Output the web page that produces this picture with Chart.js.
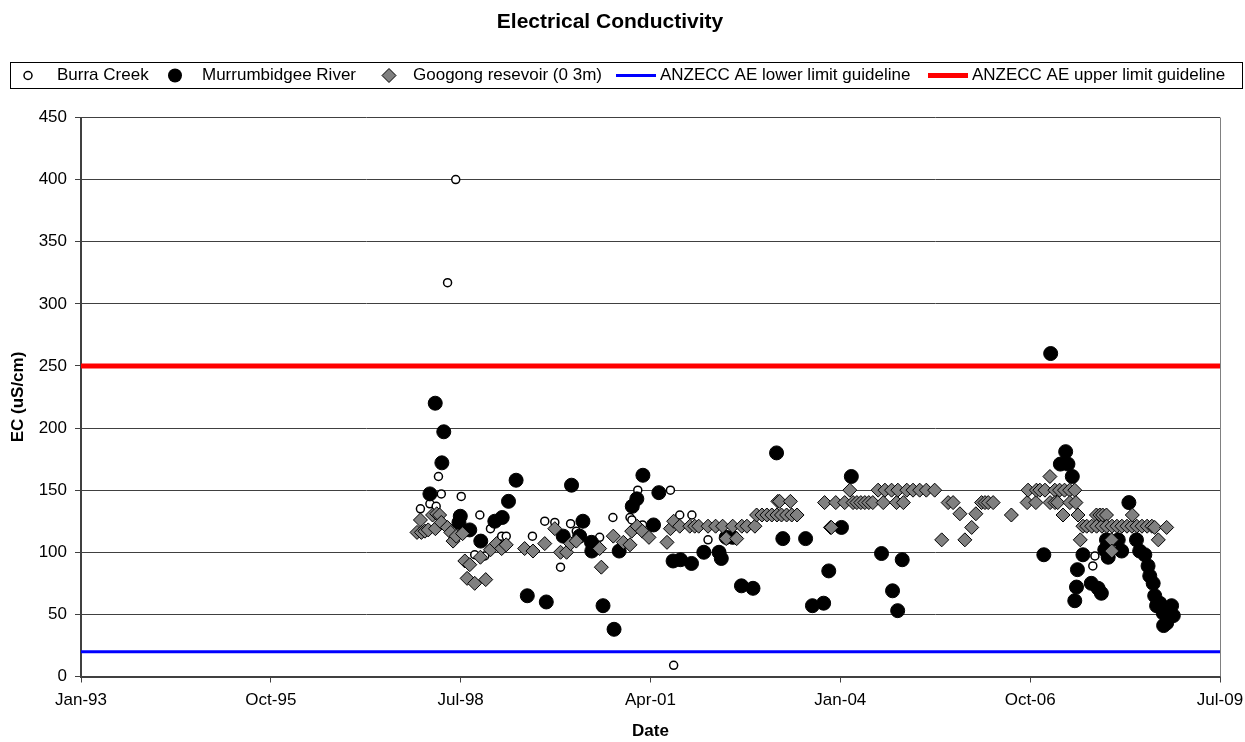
<!DOCTYPE html>
<html>
<head>
<meta charset="utf-8">
<script src="https://cdn.jsdelivr.net/npm/chart.js@4.4.0/dist/chart.umd.min.js"></script>
<style>
html,body{margin:0;padding:0;background:#fff;}
#wrap{width:1245px;height:742px;position:relative;}
</style>
</head>
<body>
<div id="wrap"><canvas id="c" width="1245" height="742"></canvas></div>
<script>
// ---------- DATA ----------
const chartTitle = 'Electrical Conductivity';
const xAxisTitle = 'Date';
const yAxisTitle = 'EC (uS/cm)';
const seriesNames = ['Burra Creek', 'Murrumbidgee River', 'Googong resevoir (0 3m)',
  'ANZECC AE lower limit guideline', 'ANZECC AE upper limit guideline'];

const axisStartDate = '1993-01-31';   // Jan-93
const axisEndDate = '2009-07-06';     // Jul-09
const xTickStepDays = 1000;
const yMin = 0, yMax = 450, yStep = 50;

const burraDates = ['1997-12-24','1998-02-12','1998-03-17','1998-03-29','1998-04-13','1998-05-16','1998-06-28','1998-07-27',
  '1998-10-06','1998-11-02','1998-11-28','1998-12-28','1999-02-25','1999-03-21','1999-08-06','1999-10-10','1999-12-02',
  '2000-01-01','2000-02-23','2000-03-24','2000-07-25','2000-10-03','2001-01-01','2001-01-11','2001-02-11','2001-03-08',
  '2001-08-02','2001-08-19','2001-09-20','2001-11-23','2002-02-16','2007-09-05','2007-09-16'];
const burraEC = [135,139,137,161,147,317,400,145,
  98,130,97,119,113,113,113,125,124,
  88,123,117,112,128,128,126,150,122,
  150,9,130,130,110,89,97];

const murrDates = ['1998-02-12','1998-03-12','1998-04-16','1998-04-26','1998-07-15','1998-07-22','1998-09-10','1998-11-07',
  '1999-01-20','1999-02-28','1999-04-02','1999-05-12','1999-07-10','1999-10-18','2000-01-15','2000-02-28','2000-04-11',
  '2000-04-28','2000-06-12','2000-06-14','2000-08-12','2000-10-09','2000-11-05','2001-01-13','2001-02-06','2001-03-10',
  '2001-05-05','2001-06-02','2001-08-16','2001-09-24','2001-11-21','2002-01-25','2002-04-15','2002-04-27','2002-05-23',
  '2002-06-26','2002-08-11','2002-10-11','2003-02-12','2003-03-17','2003-07-15','2003-08-20','2003-10-18','2003-11-14',
  '2004-01-20','2004-03-12','2004-08-18','2004-10-15','2004-11-11','2004-12-05','2006-12-21','2007-01-26','2007-03-18',
  '2007-04-15','2007-04-27','2007-05-20','2007-06-02','2007-06-11','2007-06-16','2007-07-15','2007-08-28','2007-10-03',
  '2007-10-20','2007-11-07','2007-11-16','2007-11-25','2008-01-17','2008-02-04','2008-03-13','2008-04-22','2008-05-09',
  '2008-06-05','2008-06-22','2008-07-01','2008-07-19','2008-07-27','2008-08-06','2008-08-23','2008-09-10','2008-09-12',
  '2008-09-28','2008-10-24','2008-11-02'];
const murrEC = [147,220,172,197,124,129,118,109,
  125,128,141,158,65,60,113,154,113,
  125,108,101,57,38,101,137,143,162,
  122,148,93,94,91,100,100,95,112,
  112,73,71,180,111,111,57,59,85,
  120,161,99,69,53,94,98,260,171,
  181,171,161,61,72,86,98,75,71,
  67,102,110,96,110,101,140,110,101,
  98,89,81,75,65,57,59,51,41,
  43,57,49];

const googDates = ['1997-12-06','1997-12-24','1997-12-29','1998-01-17','1998-02-03','1998-02-26','1998-03-13','1998-03-20',
  '1998-04-04','1998-04-13','1998-05-15','1998-06-02','1998-06-14','1998-07-01','1998-08-03','1998-08-15','1998-08-27',
  '1998-09-10','1998-10-06','1998-11-05','1998-12-03','1998-12-28','1999-01-29','1999-02-25','1999-03-21','1999-06-26',
  '1999-08-09','1999-10-10','1999-12-02','2000-01-01','2000-02-02','2000-02-23','2000-03-24','2000-07-25','2000-08-03',
  '2000-10-05','2000-11-27','2001-01-01','2001-01-10','2001-02-08','2001-03-07','2001-04-11','2001-07-15','2001-08-02',
  '2001-08-19','2001-09-20','2001-11-12','2001-12-08','2001-12-29','2002-02-16','2002-03-28','2002-05-04','2002-05-23',
  '2002-06-26','2002-07-17','2002-08-13','2002-09-09','2002-10-21','2002-10-30','2002-11-27','2002-12-23','2003-01-18',
  '2003-02-14','2003-02-19','2003-02-28','2003-03-10','2003-04-06','2003-04-26','2003-05-03','2003-05-31','2003-10-23',
  '2003-11-23','2003-11-28','2003-12-21','2004-02-06','2004-03-04','2004-03-21','2004-04-10','2004-05-01','2004-05-22',
  '2004-06-12','2004-07-03','2004-07-31','2004-08-27','2004-09-05','2004-10-10','2004-11-05','2004-11-12','2004-12-11',
  '2004-12-29','2005-01-31','2005-03-07','2005-04-11','2005-05-25','2005-07-01','2005-08-04','2005-08-30','2005-10-05',
  '2005-10-31','2005-12-06','2005-12-28','2006-01-27','2006-02-14','2006-03-03','2006-03-29','2006-07-03','2006-09-24',
  '2006-09-29','2006-11-09','2006-11-12','2006-11-30','2006-12-27','2007-01-22','2007-01-23','2007-02-17','2007-02-18',
  '2007-03-04','2007-03-14','2007-04-01','2007-04-09','2007-05-06','2007-05-07','2007-06-02','2007-06-08','2007-06-19',
  '2007-07-01','2007-07-15','2007-08-04','2007-08-30','2007-09-24','2007-09-25','2007-10-12','2007-10-23','2007-10-27',
  '2007-11-16','2007-11-17','2007-12-13','2007-12-14','2007-12-15','2008-01-10','2008-02-05','2008-03-03','2008-03-29',
  '2008-03-31','2008-04-24','2008-05-21','2008-06-17','2008-07-12','2008-07-27','2008-08-15','2008-09-28'];
const googEC = [116,126,116,117,118,130,119,131,
  130,124,120,116,109,113,115,93,79,
  90,75,96,78,102,107,103,106,103,
  101,107,119,100,100,107,109,103,88,
  113,108,106,117,121,117,112,108,119,
  125,121,121,121,121,121,121,121,111,
  121,111,121,121,121,130,130,130,130,
  130,141,141,130,130,141,130,130,140,
  120,120,140,140,150,140,140,140,140,
  140,140,150,140,150,150,140,150,140,
  150,150,150,150,150,110,140,140,131,
  110,120,131,140,140,140,140,130,140,
  150,140,150,150,150,161,140,150,140,
  140,150,130,150,150,140,150,140,130,
  110,121,121,121,130,121,130,121,130,
  130,121,110,101,121,121,121,121,121,
  130,121,121,121,121,120,110,120];

const lowerGuideline = 20;
const upperGuideline = 250;

// ---------- helpers ----------
const DAY_MS = 86400000;
const EXCEL_EPOCH = Date.UTC(1899, 11, 30);
const MONTHS = ['Jan','Feb','Mar','Apr','May','Jun','Jul','Aug','Sep','Oct','Nov','Dec'];
function toSerial(s){ const p = s.split('-').map(Number); return (Date.UTC(p[0], p[1]-1, p[2]) - EXCEL_EPOCH) / DAY_MS; }
function serialLabel(v){ const d = new Date(EXCEL_EPOCH + v*DAY_MS); return MONTHS[d.getUTCMonth()] + '-' + String(d.getUTCFullYear()).slice(2); }
function pts(dates, vals){ return dates.map((d,i)=>({x: toSerial(d), y: vals[i]})); }

const xMin = toSerial(axisStartDate), xMax = toSerial(axisEndDate);

Chart.defaults.font.family = "'Liberation Sans', Arial, sans-serif";
Chart.defaults.font.size = 17;
Chart.defaults.color = '#000';

// custom boxed legend (Excel style) and right plot border
const excelDecor = {
  id: 'excelDecor',
  afterDraw(chart){
    const ctx = chart.ctx, a = chart.chartArea;
    ctx.save();
    ctx.strokeStyle = '#808080'; ctx.lineWidth = 1;
    ctx.beginPath(); ctx.moveTo(Math.round(a.right)+0.5, a.top); ctx.lineTo(Math.round(a.right)+0.5, a.bottom); ctx.stroke();
    const top = 62.5, h = 26, cy = top + h/2;
    ctx.strokeStyle = '#000'; ctx.lineWidth = 1;
    ctx.strokeRect(10.5, top, 1232, h);
    ctx.font = "17px 'Liberation Sans', Arial, sans-serif";
    ctx.fillStyle = '#000'; ctx.textBaseline = 'middle'; ctx.textAlign = 'left';
    const ds = chart.data.datasets;
    ctx.beginPath(); ctx.arc(28, cy, 4, 0, Math.PI*2); ctx.fillStyle = '#fff'; ctx.fill();
    ctx.lineWidth = 1.5; ctx.strokeStyle = '#000'; ctx.stroke();
    ctx.fillStyle = '#000'; ctx.fillText(ds[0].label, 57, cy);
    ctx.beginPath(); ctx.arc(175, cy, 7, 0, Math.PI*2); ctx.fill();
    ctx.fillText(ds[1].label, 202, cy);
    ctx.beginPath(); ctx.moveTo(389-7, cy); ctx.lineTo(389, cy-7); ctx.lineTo(389+7, cy); ctx.lineTo(389, cy+7); ctx.closePath();
    ctx.fillStyle = '#808080'; ctx.fill(); ctx.lineWidth = 1; ctx.strokeStyle = '#000'; ctx.stroke();
    ctx.fillStyle = '#000'; ctx.fillText(ds[2].label, 413, cy);
    ctx.strokeStyle = '#0000ff'; ctx.lineWidth = 3;
    ctx.beginPath(); ctx.moveTo(616, cy); ctx.lineTo(656, cy); ctx.stroke();
    ctx.fillText(ds[3].label, 660, cy);
    ctx.strokeStyle = '#ff0000'; ctx.lineWidth = 5;
    ctx.beginPath(); ctx.moveTo(928, cy); ctx.lineTo(968, cy); ctx.stroke();
    ctx.fillText(ds[4].label, 972, cy);
    ctx.restore();
  }
};

new Chart(document.getElementById('c'), {
  type: 'scatter',
  data: {
    datasets: [
      { label: seriesNames[0], data: pts(burraDates, burraEC), pointStyle: 'circle', pointRadius: 4, pointHoverRadius: 4,
        backgroundColor: '#ffffff', borderColor: '#000000', borderWidth: 1.5, order: 3 },
      { label: seriesNames[1], data: pts(murrDates, murrEC), pointStyle: 'circle', pointRadius: 7, pointHoverRadius: 7,
        backgroundColor: '#000000', borderColor: '#000000', borderWidth: 1, order: 2 },
      { label: seriesNames[2], data: pts(googDates, googEC), pointStyle: 'rectRot', pointRadius: 7, pointHoverRadius: 7,
        backgroundColor: '#808080', borderColor: '#000000', borderWidth: 1, order: 1 },
      { label: seriesNames[3], data: [{x: xMin, y: lowerGuideline}, {x: xMax, y: lowerGuideline}], showLine: true,
        pointRadius: 0, borderColor: '#0000ff', backgroundColor: '#0000ff', borderWidth: 3, order: 0 },
      { label: seriesNames[4], data: [{x: xMin, y: upperGuideline}, {x: xMax, y: upperGuideline}], showLine: true,
        pointRadius: 0, borderColor: '#ff0000', backgroundColor: '#ff0000', borderWidth: 5, order: 0 }
    ]
  },
  options: {
    responsive: false,
    animation: false,
    layout: { padding: { left: 0, right: 25, top: 0, bottom: 0 } },
    plugins: {
      legend: { display: false },
      tooltip: { enabled: false },
      title: { display: true, text: chartTitle, font: { size: 21, weight: 'bold' }, color: '#000',
        padding: { top: 10, bottom: 82.3 } }
    },
    scales: {
      x: {
        type: 'linear', min: xMin, max: xMax,
        afterFit(s){ s.height = 65.5; s.paddingLeft = 0; s.paddingRight = 0; },
        ticks: { stepSize: xTickStepDays, callback: (v) => serialLabel(v), padding: 8, maxRotation: 0, autoSkip: false, color: '#000' },
        grid: { drawOnChartArea: false, drawTicks: true, tickLength: 6, color: '#404040', lineWidth: 1 },
        border: { display: true, color: '#404040', width: 2 },
        title: { display: true, text: xAxisTitle, font: { size: 17, weight: 'bold' }, color: '#000', padding: { top: 4, bottom: 0 } }
      },
      y: {
        min: yMin, max: yMax,
        afterFit(s){ s.width = 81; s.paddingTop = 0; s.paddingBottom = 0; },
        ticks: { stepSize: yStep, padding: 8, color: '#000' },
        grid: { drawTicks: true, tickLength: 6, color: '#404040', lineWidth: 1 },
        border: { display: true, color: '#404040', width: 2 },
        title: { display: true, text: yAxisTitle, font: { size: 17, weight: 'bold' }, color: '#000', padding: { top: 8, bottom: 0 } }
      }
    }
  },
  plugins: [excelDecor]
});
</script>
</body>
</html>
